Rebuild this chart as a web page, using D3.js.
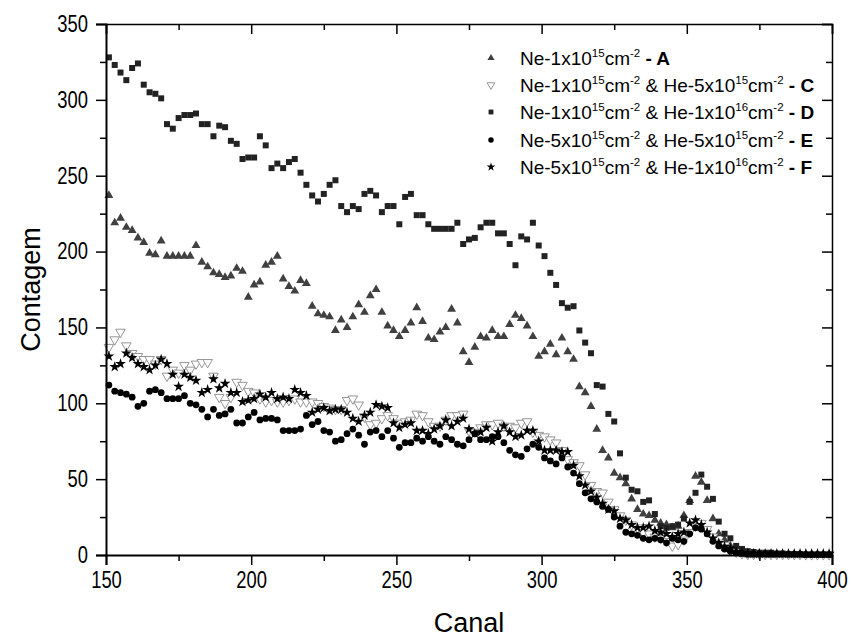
<!DOCTYPE html>
<html lang="pt">
<head>
<meta charset="UTF-8">
<title>Contagem x Canal</title>
<script src="https://d3js.org/d3.v7.min.js"></script>
<style>
    body { margin: 0; background: #fff; font-family: Arial, "Liberation Sans", sans-serif; }
    .axis path, .axis line { stroke: #000; }
    .axis text { font-family: Arial, "Liberation Sans", sans-serif; font-size: 23px; fill: #000; }
    .axis-title { font-size: 27px; }
    .legend text { font-size: 19px; }
</style>
</head>
<body>
<svg width="851" height="637"></svg>
<script>
// canal (x) values
const canal = [
    151, 153, 155, 157, 159, 161, 163, 165, 167, 169,
    171, 173, 175, 177, 179, 181, 183, 185, 187, 189,
    191, 193, 195, 197, 199, 201, 203, 205, 207, 209,
    211, 213, 215, 217, 219, 221, 223, 225, 227, 229,
    231, 233, 235, 237, 239, 241, 243, 245, 247, 249,
    251, 253, 255, 257, 259, 261, 263, 265, 267, 269,
    271, 273, 275, 277, 279, 281, 283, 285, 287, 289,
    291, 293, 295, 297, 299, 301, 303, 305, 307, 309,
    311, 313, 315, 317, 319, 321, 323, 325, 327, 329,
    331, 333, 335, 337, 339, 341, 343, 345, 347, 349,
    351, 353, 355, 357, 359, 361, 363, 365, 367, 369,
    371, 373, 375, 377, 379, 381, 383, 385, 387, 389,
    391, 393, 395, 397, 399
];

// A: Ne-1x10^15
const serieA = [
    237, 219, 222, 216, 214, 209, 206, 199, 198, 207,
    197, 197, 197, 197, 197, 204, 193, 190, 186, 185,
    183, 184, 189, 187, 170, 178, 180, 191, 193, 197,
    182, 177, 174, 181, 179, 164, 159, 158, 157, 148,
    155, 150, 157, 165, 160, 171, 175, 160, 151, 148,
    144, 148, 153, 163, 154, 143, 142, 147, 150, 162,
    153, 134, 127, 137, 144, 143, 148, 144, 144, 152,
    158, 156, 151, 144, 131, 134, 139, 132, 143, 134,
    129, 111, 107, 98, 83, 69, 64, 54, 51, 47,
    37, 30, 27, 26, 23, 21, 20, 18, 19, 26,
    36, 52, 48, 36, 24, 14, 10, 6, 3, 2,
    1.5, 1, 1, 0.5, 0.5, 0.5, 0.5, 0.5, 0.3, 0.3,
    0.3, 0.3, 0.3, 0.3, 0.3
];

// C: Ne-1x10^15 & He-5x10^15
const serieC = [
    137, 142, 147, 138, 133, 131, 129, 129, 126, 129,
    118, 122, 120, 125, 122, 126, 127, 127, 118, 104,
    100, 104, 114, 112, 108, 107, 103, 101, 102, 101,
    101, 102, 103, 101, 101, 101, 100, 98, 97, 96,
    96, 102, 103, 99, 91, 86, 87, 90, 92, 90,
    87, 88, 89, 93, 92, 88, 85, 85, 89, 92,
    92, 93, 82, 81, 84, 86, 86, 87, 85, 85,
    84, 87, 88, 81, 79, 78, 76, 74, 69, 63,
    61, 59, 53, 46, 42, 41, 35, 30, 26, 23,
    20, 18, 15, 14, 12, 11, 9, 6, 7, 10,
    15, 19, 21, 17, 12, 8, 5, 3, 2, 1,
    0.5, 0.5, 0.5, 0.5, 0.5, 0.5, 0.5, 0.5, 0.5, 0.5,
    0.3, 0.3, 0.3, 0.3, 0.3
];

// D: Ne-1x10^15 & He-1x10^16
const serieD = [
    328, 323, 318, 313, 321, 324, 310, 305, 304, 301,
    284, 281, 288, 290, 290, 291, 284, 284, 276, 283,
    282, 273, 271, 261, 262, 262, 276, 270, 255, 258,
    255, 259, 261, 252, 244, 237, 233, 238, 244, 247,
    230, 226, 230, 228, 238, 240, 237, 226, 230, 230,
    218, 236, 238, 224, 224, 218, 215, 215, 215, 215,
    219, 205, 208, 209, 216, 219, 219, 212, 212, 205,
    191, 210, 208, 219, 204, 197, 186, 178, 166, 163,
    164, 148, 140, 133, 112, 111, 93, 88, 67, 51,
    43, 42, 35, 36, 27, 19, 18, 19, 20, 24,
    35, 41, 53, 45, 37, 22, 14, 11, 6, 4,
    2.5, 2, 1.5, 1.5, 1.5, 1, 1, 0.5, 0.5, 0.5,
    0.3, 0.3, 0.3, 0.3, 0.3
];

// E: Ne-5x10^15 & He-5x10^15
const serieE = [
    112, 108, 107, 106, 104, 98, 100, 108, 109, 107,
    103, 103, 103, 105, 100, 99, 96, 91, 96, 92,
    93, 96, 87, 87, 91, 94, 89, 90, 90, 89,
    82, 82, 82, 83, 92, 86, 88, 82, 81, 75,
    76, 80, 83, 79, 73, 81, 82, 78, 82, 77,
    71, 74, 74, 77, 75, 78, 75, 73, 78, 76,
    73, 72, 76, 80, 76, 76, 78, 78, 74, 69,
    66, 65, 70, 73, 71, 64, 62, 60, 64, 58,
    54, 47, 41, 37, 35, 32, 30, 25, 19, 15,
    14, 13, 11, 10, 11, 10, 8, 11, 10, 9,
    14, 18, 17, 14, 9, 6, 4, 2.5, 1.5, 1,
    0.5, 0.5, 0.5, 0.5, 0.5, 0.5, 0.5, 0.5, 0.5, 0.5,
    0.3, 0.3, 0.3, 0.3, 0.3
];

// F: Ne-5x10^15 & He-1x10^16
const serieF = [
    131, 124, 126, 133, 130, 126, 124, 122, 125, 129,
    126, 119, 111, 119, 117, 115, 107, 109, 116, 110,
    113, 107, 107, 101, 102, 103, 106, 104, 107, 103,
    104, 103, 109, 107, 105, 94, 96, 97, 95, 96,
    96, 94, 90, 88, 92, 94, 99, 98, 97, 87,
    84, 86, 87, 82, 82, 80, 83, 85, 89, 85,
    88, 90, 83, 80, 81, 84, 75, 81, 85, 81,
    78, 79, 82, 82, 75, 69, 69, 69, 68, 68,
    59, 52, 46, 42, 38, 34, 30, 29, 24, 23,
    20, 18, 18, 19, 16, 15, 14, 12, 14, 15,
    21, 23, 20, 15, 11, 8, 5.5, 4.4, 2.2, 1.5,
    1, 0.8, 0.8, 0.8, 0.8, 0.8, 0.8, 0.8, 0.8, 0.8,
    0.8, 0.8, 0.8, 0.8, 0.8
];

const xMajor = [150, 200, 250, 300, 350, 400];
const xMinor = [175, 225, 275, 325, 375];
const yMajor = [0, 50, 100, 150, 200, 250, 300, 350];
const yMinor = [25, 75, 125, 175, 225, 275, 325];

const svg = d3.select("svg");
const margin = { top: 24, right: 19, bottom: 82, left: 106 };
const W = 851, H = 637;
const squeeze = 0.8;   // tick labels are tall and narrow in the original

const x = d3.scaleLinear().domain([150, 400]).range([margin.left, W - margin.right]);
const y = d3.scaleLinear().domain([0, 350]).range([H - margin.bottom, margin.top]);

// series styles (legend order)
const series = [
    { key: "A", values: serieA, type: d3.symbolTriangle, size: 34, fill: "#404040", stroke: "none", rot: 0,
      ne: "1", he: null },
    { key: "C", values: serieC, type: d3.symbolTriangle, size: 40, fill: "#fff", stroke: "#8a8a8a", rot: 180,
      ne: "1", he: ["5", "15"] },
    { key: "D", values: serieD, type: d3.symbolSquare, size: 36, fill: "#222", stroke: "none", rot: 0,
      ne: "1", he: ["1", "16"] },
    { key: "E", values: serieE, type: d3.symbolCircle, size: 36, fill: "#000", stroke: "none", rot: 0,
      ne: "5", he: ["5", "15"] },
    { key: "F", values: serieF, type: d3.symbolStar, size: 36, fill: "#000", stroke: "none", rot: 0,
      ne: "5", he: ["1", "16"] }
];

// points
series.forEach(s => {
    const sym = d3.symbol().type(s.type).size(s.size)();
    svg.append("g")
        .selectAll("path")
        .data(canal.map((c, i) => [c, s.values[i]]))
        .join("path")
        .attr("d", sym)
        .attr("transform", d => `translate(${x(d[0])},${y(d[1])}) rotate(${s.rot})`)
        .attr("fill", s.fill)
        .attr("stroke", s.stroke)
        .attr("stroke-width", 0.9);
});

// axes
const gB = H - margin.bottom, gT = margin.top, gL = margin.left, gR = W - margin.right;

svg.append("g").attr("class", "axis")
    .attr("transform", `translate(0,${gB})`)
    .call(d3.axisBottom(x).tickValues(xMajor).tickSize(10).tickPadding(7).tickFormat(d3.format("d")))
    .call(g => g.select(".domain").attr("stroke-width", 2))
    .call(g => g.selectAll("text").attr("transform", `scale(${squeeze},1)`));
svg.append("g").attr("class", "axis")
    .attr("transform", `translate(0,${gB})`)
    .call(d3.axisBottom(x).tickValues(xMinor).tickSize(6).tickFormat(""))
    .call(g => g.select(".domain").remove());

svg.append("g").attr("class", "axis")
    .attr("transform", `translate(${gL},0)`)
    .call(d3.axisLeft(y).tickValues(yMajor).tickSize(10).tickPadding(8).tickFormat(d3.format("d")))
    .call(g => g.select(".domain").attr("stroke-width", 2))
    .call(g => g.selectAll("text")
        .attr("x", -18 / squeeze)
        .attr("transform", `scale(${squeeze},1)`));
svg.append("g").attr("class", "axis")
    .attr("transform", `translate(${gL},0)`)
    .call(d3.axisLeft(y).tickValues(yMinor).tickSize(6).tickFormat(""))
    .call(g => g.select(".domain").remove());

// top and right, ticks inward
svg.append("g").attr("class", "axis")
    .attr("transform", `translate(0,${gT})`)
    .call(d3.axisBottom(x).tickValues(xMajor).tickSize(10).tickFormat(""))
    .call(g => g.select(".domain").attr("stroke-width", 1.5));
svg.append("g").attr("class", "axis")
    .attr("transform", `translate(0,${gT})`)
    .call(d3.axisBottom(x).tickValues(xMinor).tickSize(6).tickFormat(""))
    .call(g => g.select(".domain").remove());
svg.append("g").attr("class", "axis")
    .attr("transform", `translate(${gR},0)`)
    .call(d3.axisLeft(y).tickValues(yMajor).tickSize(10).tickFormat(""))
    .call(g => g.select(".domain").attr("stroke-width", 1.5));
svg.append("g").attr("class", "axis")
    .attr("transform", `translate(${gR},0)`)
    .call(d3.axisLeft(y).tickValues(yMinor).tickSize(6).tickFormat(""))
    .call(g => g.select(".domain").remove());

svg.selectAll(".axis .tick line").attr("stroke-width", 1.5);

// axis titles
svg.append("text")
    .attr("class", "axis-title")
    .attr("x", (gL + gR) / 2)
    .attr("y", 632)
    .attr("text-anchor", "middle")
    .text("Canal");

svg.append("text")
    .attr("class", "axis-title")
    .attr("transform", "rotate(-90)")
    .attr("x", -(gT + gB) / 2)
    .attr("y", 40)
    .attr("text-anchor", "middle")
    .text("Contagem");

// legend
const legend = svg.append("g").attr("class", "legend");
const rowY = [58, 85, 112, 140, 167];
series.forEach((s, i) => {
    const ly = rowY[i];
    legend.append("path")
        .attr("d", d3.symbol().type(s.type).size(s.size * 0.65)())
        .attr("transform", `translate(491,${ly}) rotate(${s.rot})`)
        .attr("fill", s.fill)
        .attr("stroke", s.stroke)
        .attr("stroke-width", 0.9);

    const t = legend.append("text").attr("x", 520).attr("y", ly + 7);
    t.append("tspan").text(`Ne-${s.ne}x10`);
    t.append("tspan").attr("dy", -8).attr("font-size", 11.5).text("15");
    t.append("tspan").attr("dy", 8).text("cm");
    t.append("tspan").attr("dy", -8).attr("font-size", 11.5).text("-2");
    if (s.he) {
        t.append("tspan").attr("dy", 8).text(` & He-${s.he[0]}x10`);
        t.append("tspan").attr("dy", -8).attr("font-size", 11.5).text(s.he[1]);
        t.append("tspan").attr("dy", 8).text("cm");
        t.append("tspan").attr("dy", -8).attr("font-size", 11.5).text("-2");
    }
    t.append("tspan").attr("dy", 8).attr("font-weight", "bold").text(` - ${s.key}`);
});
</script>
</body>
</html>
